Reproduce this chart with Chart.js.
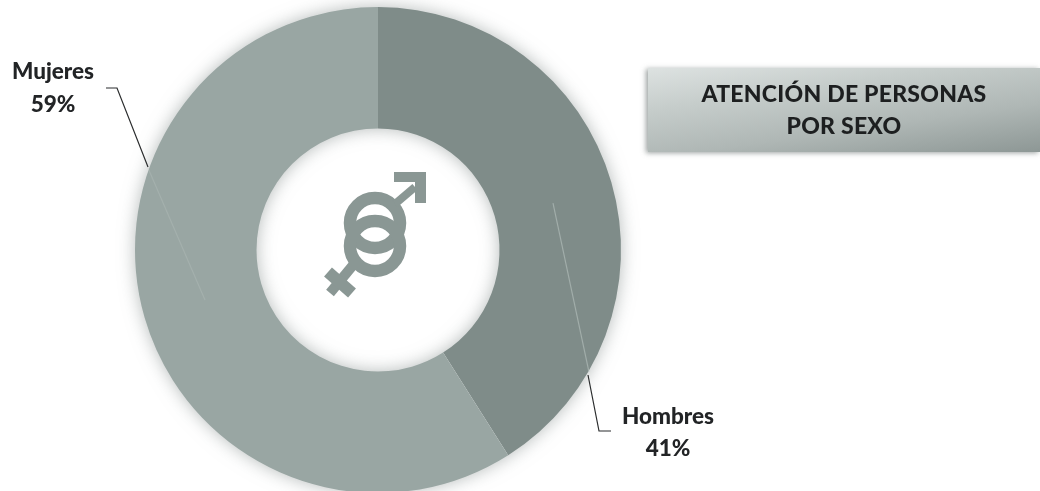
<!DOCTYPE html>
<html><head><meta charset="utf-8">
<script src="https://cdn.jsdelivr.net/npm/chart.js@4"></script>
<style>
html,body{margin:0;padding:0;background:#fff;width:1040px;height:491px;overflow:hidden}
#wrap{position:absolute;left:0;top:0;width:1040px;height:495px}
#title{position:absolute;left:648px;top:68px;width:392px;height:84px;box-sizing:border-box;padding-top:9px;
text-align:center;font:900 23px/32px Lato,sans-serif;color:#1d1f20;letter-spacing:.25px;
background:linear-gradient(172deg,#dde2e1 0%,#c6cdcb 30%,#afb7b5 65%,#8d9795 100%);
box-shadow:-2px 1px 5px rgba(90,100,98,.6)}
</style></head><body>
<div id="wrap"><canvas id="c" width="1040" height="495"></canvas></div>
<div id="title">ATENCIÓN DE PERSONAS<br>POR SEXO</div>
<script>
const categories=["Hombres","Mujeres"];
const values=[41,59];
const colors=["#7f8c89","#99a6a3"];
const labelFont='900 22.5px Lato, sans-serif';

const deco={id:'deco',
 beforeDatasetsDraw(c){const x=c.ctx;x.save();x.shadowColor='rgba(120,130,128,.6)';x.shadowBlur=18;
  const a=c.getDatasetMeta(0).data[0];x.fillStyle='#fff';x.beginPath();x.arc(a.x,a.y,a.outerRadius-1,0,Math.PI*2);x.arc(a.x,a.y,a.innerRadius+1,0,Math.PI*2,true);x.fill();x.restore();},
 afterDatasetsDraw(c){const x=c.ctx;const a=c.getDatasetMeta(0).data[0];const cx=a.x,cy=a.y;
  x.save();x.lineCap='butt';
  // faint inner leaders
  x.strokeStyle='rgba(190,200,197,.55)';x.lineWidth=1.2;
  x.beginPath();x.moveTo(553,203);x.lineTo(589,372);x.stroke();
  x.strokeStyle='rgba(190,200,197,.3)';
  x.beginPath();x.moveTo(148,168);x.lineTo(205,300);x.stroke();
  // leaders outside
  x.strokeStyle='#2b2d2e';x.lineWidth=1.2;
  x.beginPath();x.moveTo(588,375);x.lineTo(599,431);x.lineTo(611,431);x.stroke();
  x.beginPath();x.moveTo(106,88);x.lineTo(117,88);x.lineTo(148,167);x.stroke();
  // labels
  x.fillStyle='#222426';x.font=labelFont;x.textAlign='center';x.textBaseline='middle';
  x.fillText(categories[0],668,417);x.fillText(values[0]+'%',668,449);
  x.fillText(categories[1],53,72);x.fillText(values[1]+'%',53,105);
  // gender symbol
  const g='#8a9794';x.strokeStyle=g;x.fillStyle=g;x.lineWidth=12.5;
  const ox=cx-3,r=25;
  x.beginPath();x.arc(ox,cy-27,r,0,Math.PI*2);x.stroke();
  x.beginPath();x.arc(ox,cy-4,r,0,Math.PI*2);x.stroke();
  x.lineWidth=8;
  x.beginPath();x.moveTo(cx+17,cy-46);x.lineTo(cx+37,cy-63);x.stroke();
  x.lineWidth=10;
  x.beginPath();x.moveTo(cx-24,cy+14);x.lineTo(cx-48,cy+43);x.stroke();
  x.lineWidth=12;x.beginPath();x.moveTo(cx-50,cy+22);x.lineTo(cx-26,cy+43);x.stroke();
  x.beginPath();x.moveTo(cx+16,cy-78);x.lineTo(cx+48,cy-78);x.lineTo(cx+48,cy-47);x.lineTo(cx+37,cy-47);x.lineTo(cx+37,cy-68);x.lineTo(cx+16,cy-68);x.closePath();x.fill();
  x.restore();}
};
new Chart(document.getElementById('c'),{type:'doughnut',plugins:[deco],
 data:{labels:categories,datasets:[{data:values,backgroundColor:colors,borderWidth:0}]},
 options:{responsive:false,animation:false,cutout:'50%',
  layout:{padding:{left:135,right:419,top:7,bottom:2}},
  plugins:{legend:{display:false},tooltip:{enabled:false}}}});
</script>
</body></html>
